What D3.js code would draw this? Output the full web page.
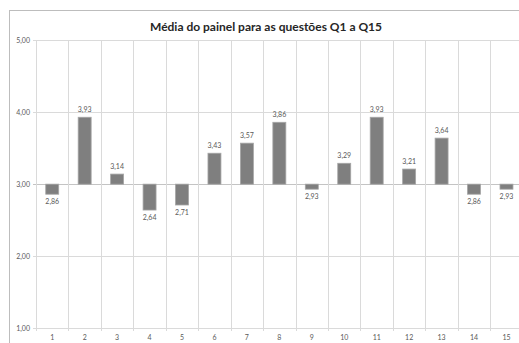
<!DOCTYPE html>
<html>
<head>
<meta charset="utf-8">
<script src="https://cdn.jsdelivr.net/npm/d3@7"></script>
<style>
  html, body { margin: 0; padding: 0; background: #fff; }
  svg { display: block; }
</style>
</head>
<body>
<svg id="chart" width="519" height="343"></svg>
<script>
// Average panel score per question
const questions = ["1","2","3","4","5","6","7","8","9","10","11","12","13","14","15"];
const means = [2.86, 3.93, 3.14, 2.64, 2.71, 3.43, 3.57, 3.86, 2.93, 3.29, 3.93, 3.21, 3.64, 2.86, 2.93];
const yTicks = [1, 2, 3, 4, 5];
const baseline = 3;
const title = "Média do painel para as questões Q1 a Q15";

const svg = d3.select("#chart");
const plot = { left: 36, right: 522.7, top: 40.3, bottom: 328 };
const fmt = v => d3.format(".2f")(v).replace(".", ",");
const font = "Lato, 'Open Sans', sans-serif";

// outer chart frame
svg.append("rect")
  .attr("x", 9.5).attr("y", 10.5)
  .attr("width", 540).attr("height", 360)
  .attr("fill", "#fff").attr("stroke", "#bdbdbd").attr("stroke-width", 1);

const x = d3.scaleBand().domain(questions).range([plot.left, plot.right]).paddingInner(0).paddingOuter(0);
const y = d3.scaleLinear().domain([1, 5]).range([plot.bottom, plot.top]);

// horizontal gridlines
svg.append("g").selectAll("line").data(yTicks).join("line")
  .attr("x1", plot.left - 3).attr("x2", plot.right)
  .attr("y1", d => Math.round(y(d)) + 0.5).attr("y2", d => Math.round(y(d)) + 0.5)
  .attr("stroke", d => d === baseline ? "#c4c4c4" : "#dadada").attr("stroke-width", 1);

// vertical category separators
const bounds = questions.map(q => x(q)).concat([plot.right]);
svg.append("g").selectAll("line").data(bounds).join("line")
  .attr("x1", d => Math.round(d) + 0.5).attr("x2", d => Math.round(d) + 0.5)
  .attr("y1", plot.top).attr("y2", plot.bottom + 3)
  .attr("stroke", "#dadada").attr("stroke-width", 1);

// y axis labels
const yAxis = d3.axisLeft(y).tickValues(yTicks).tickFormat(fmt).tickSize(0).tickPadding(6);
const gy = svg.append("g").attr("transform", `translate(${plot.left},0)`).call(yAxis);
gy.select(".domain").remove();
gy.selectAll("text").attr("font-family", font).attr("font-size", 7).attr("fill", "#595959");

// x axis labels
const xAxis = d3.axisBottom(x).tickSize(0).tickPadding(7);
const gx = svg.append("g").attr("transform", `translate(0,${plot.bottom})`).call(xAxis);
gx.select(".domain").remove();
gx.selectAll("text").attr("font-family", font).attr("font-size", 7).attr("fill", "#595959");

// bars measured from the 3,00 baseline
const barW = x.bandwidth() * 0.4;
svg.append("g").selectAll("rect").data(means).join("rect")
  .attr("x", (d, i) => x(questions[i]) + (x.bandwidth() - barW) / 2)
  .attr("y", d => y(Math.max(d, baseline)))
  .attr("width", barW)
  .attr("height", d => Math.abs(y(d) - y(baseline)))
  .attr("fill", "#7f7f7f").attr("stroke", "#a6a6a6").attr("stroke-width", 0.8);

// value labels
svg.append("g").selectAll("text").data(means).join("text")
  .attr("x", (d, i) => x(questions[i]) + x.bandwidth() / 2)
  .attr("y", d => d >= baseline ? y(d) - 5 : y(d) + 10)
  .attr("text-anchor", "middle")
  .attr("font-family", font).attr("font-size", 7).attr("fill", "#595959")
  .text(fmt);

// title
svg.append("text")
  .attr("x", 266).attr("y", 31)
  .attr("text-anchor", "middle")
  .attr("font-family", font).attr("font-weight", "bold").attr("font-size", 12)
  .attr("fill", "#262626")
  .text(title);
</script>
</body>
</html>
